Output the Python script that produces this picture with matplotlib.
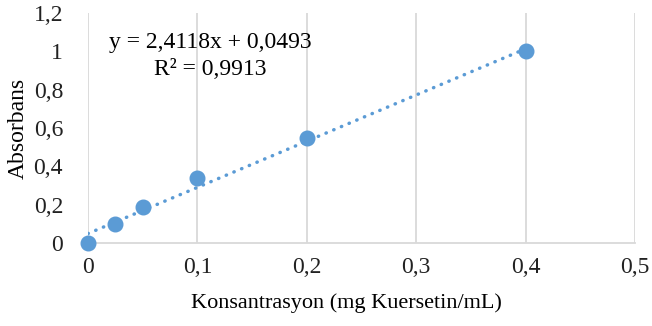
import numpy as np
import matplotlib.pyplot as plt
from matplotlib.ticker import FuncFormatter, MultipleLocator

# konsantrasyon (mg/mL) ve absorbans
konsantrasyon = [0, 0.025, 0.05, 0.1, 0.2, 0.4]
absorbans = [0, 0.1, 0.19, 0.34, 0.55, 1.0]
egim = 2.4118
kesim = 0.0493
r2 = 0.9913

plt.rcParams['font.family'] = ['Liberation Serif', 'DejaVu Serif']
mavi = '#5B9BD5'


def virgul(v, pos):
    s = ('%.1f' % v).rstrip('0').rstrip('.')
    return s.replace('.', ',')


fig = plt.figure(figsize=(6.52, 3.26), dpi=100)
ax = fig.add_axes([0.135, 0.2546, 0.839, 0.705])

xt = np.array([konsantrasyon[0], konsantrasyon[-1]])
ax.plot(xt, egim * xt + kesim, linestyle=(0, (0.1, 2.3)), color=mavi, lw=2.5,
        dash_capstyle='round', zorder=2)
ax.plot(konsantrasyon, absorbans, 'o', color=mavi, ms=10.5, zorder=3,
        clip_on=False)

ax.set_xlim(0, 0.5)
ax.set_ylim(0, 1.2)
ax.xaxis.set_major_locator(MultipleLocator(0.1))
ax.yaxis.set_major_locator(MultipleLocator(0.2))
ax.xaxis.set_major_formatter(FuncFormatter(virgul))
ax.yaxis.set_major_formatter(FuncFormatter(virgul))
ax.grid(axis='x', color='#D9D9D9', lw=1.3)
for s in ['top', 'right', 'left']:
    ax.spines[s].set_visible(False)
ax.spines['bottom'].set_color('#D9D9D9')
ax.spines['bottom'].set_linewidth(1.3)
ax.tick_params(length=0, labelsize=17, pad=10, colors='#222222')
ax.tick_params(axis='y', pad=18)

ax.set_xlabel('Konsantrasyon (mg Kuersetin/mL)', fontsize=16)
ax.xaxis.set_label_coords(0.472, -0.22)
ax.set_ylabel('Absorbans', fontsize=17)
ax.yaxis.set_label_coords(-0.108, 0.5)

fig.text(0.322, 0.870, 'y = %s x + %s'.replace(' x', 'x') % (
    str(egim).replace('.', ','), str(kesim).replace('.', ',')),
    ha='center', va='center', fontsize=17)
fig.text(0.322, 0.788, 'R² = %s' % str(r2).replace('.', ','),
         ha='center', va='center', fontsize=17)

fig.savefig('out.png', dpi=100)
